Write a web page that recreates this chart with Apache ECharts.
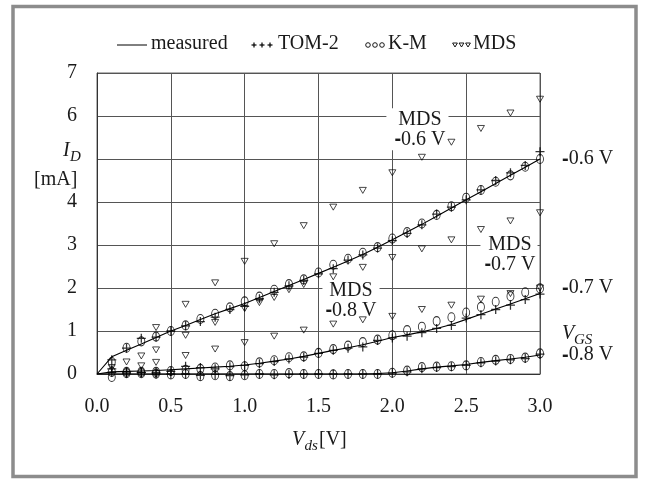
<!DOCTYPE html>
<html><head><meta charset="utf-8">
<script src="https://cdn.jsdelivr.net/npm/echarts@6/dist/echarts.min.js"></script>
<style>html,body{margin:0;padding:0;background:#fff}#c{width:645px;height:479px}</style>
</head><body><div id="c"></div>
<script>
// ---------- data ----------
const xTickLabels = ['0.0','0.5','1.0','1.5','2.0','2.5','3.0'];
const yTickLabels = ['0','1','2','3','4','','6','7'];

const vdsMeasured = [0.0,0.1,0.2,0.3,0.4,0.5,0.6,0.7,0.8,0.9,1.0,1.1,1.2,1.3,1.4,1.5,1.6,1.7,1.8,1.9,2.0,2.1,2.2,2.3,2.4,2.5,2.6,2.7,2.8,2.9,3.0];
const measured06 = [0,0.40,0.55,0.70,0.85,1.00,1.13,1.27,1.40,1.52,1.64,1.78,1.92,2.06,2.20,2.34,2.48,2.63,2.78,2.95,3.12,3.30,3.48,3.67,3.86,4.05,4.24,4.43,4.62,4.81,5.00];
const measured07 = [0,0.05,0.06,0.07,0.08,0.10,0.12,0.14,0.16,0.18,0.21,0.25,0.30,0.35,0.41,0.48,0.55,0.61,0.68,0.76,0.85,0.91,0.98,1.06,1.15,1.27,1.39,1.51,1.63,1.75,1.87];
const measured08 = [0,0,0,0,0,0,0,0,0,0,0,0,0,0,0,0,0,0,0,0.01,0.03,0.07,0.12,0.16,0.19,0.22,0.27,0.31,0.35,0.39,0.44];

const vdsModel = [0.1,0.2,0.3,0.4,0.5,0.6,0.7,0.8,0.9,1.0,1.1,1.2,1.3,1.4,1.5,1.6,1.7,1.8,1.9,2.0,2.1,2.2,2.3,2.4,2.5,2.6,2.7,2.8,2.9,3.0];
const km06  = [0.28,0.61,0.76,0.87,1.00,1.13,1.28,1.40,1.55,1.69,1.80,1.96,2.09,2.20,2.36,2.54,2.68,2.82,2.95,3.15,3.30,3.50,3.70,3.90,4.10,4.28,4.47,4.62,4.82,5.00];
const tom06 = [0.33,0.60,0.83,0.86,1.00,1.12,1.22,1.32,1.50,1.57,1.75,1.90,2.05,2.18,2.33,2.45,2.65,2.77,2.93,3.10,3.27,3.47,3.72,3.88,4.05,4.28,4.50,4.68,4.85,5.17];
const km07  = [0.05,0.05,0.05,0.05,0.07,0.10,0.12,0.15,0.20,0.18,0.27,0.32,0.39,0.41,0.49,0.58,0.66,0.74,0.80,0.90,1.02,1.10,1.23,1.32,1.43,1.56,1.68,1.81,1.90,1.99];
const tom07 = [0.12,0.05,0.04,0.04,0.06,0.18,0.15,0.12,0.17,0.20,0.24,0.29,0.35,0.39,0.48,0.55,0.60,0.63,0.78,0.84,0.88,0.96,1.06,1.13,1.30,1.38,1.50,1.60,1.73,1.86];
const km08  = [-0.07,0.02,0.02,0.01,-0.01,0.00,-0.05,-0.03,-0.05,-0.03,0.00,0.00,0.02,0.00,0.00,-0.01,0.00,0.00,0.00,0.03,0.08,0.16,0.17,0.18,0.20,0.28,0.33,0.35,0.38,0.48];
const tom08 = [0.04,0.02,0.03,0.00,0.00,0.00,-0.03,-0.01,-0.04,-0.02,0.00,-0.02,-0.01,0.00,0.00,0.00,0.00,0.00,0.00,0.02,0.05,0.12,0.15,0.17,0.20,0.26,0.30,0.33,0.36,0.46];

const mdsVds06 = [0.4,0.6,0.8,1.0,1.2,1.4,1.6,1.8,2.0,2.2,2.4,2.6,2.8,3.0];
const mds06    = [1.08,1.62,2.12,2.62,3.03,3.45,3.88,4.27,4.68,5.04,5.39,5.71,6.07,6.39];
const mdsVds07 = [0.1,0.2,0.3,0.4,0.6,0.8,1.0,1.1,1.2,1.3,1.4,1.6,1.8,2.0,2.2,2.4,2.6,2.8,3.0];
const mds07    = [0.15,0.28,0.42,0.56,0.90,1.20,1.52,1.66,1.78,1.96,2.08,2.26,2.48,2.71,2.91,3.12,3.36,3.56,3.75];
const mdsVds08 = [0.3,0.4,0.6,0.8,1.0,1.2,1.4,1.6,1.8,2.0,2.2,2.4,2.6,2.8,3.0];
const mds08    = [0.19,0.27,0.43,0.58,0.73,0.88,1.02,1.16,1.26,1.34,1.50,1.60,1.74,1.87,2.00];

// ---------- chart ----------
const FONT = '"Liberation Serif","Times New Roman",serif';
const TXT = '#1a1a1a';
const chart = echarts.init(document.getElementById('c'), null, {renderer:'canvas'});
const pair = (xs, ys) => xs.map((x, i) => [x, ys[i]]);
const plusPath = 'path://M4.3,0H5.7V4.3H10V5.7H5.7V10H4.3V5.7H0V4.3H4.3Z';

function lineS(d){ return {type:'line', name:'measured', data:d, symbol:'none', lineStyle:{color:'#000', width:1.1}, z:3, animation:false, silent:true}; }
function tomS(d){ return {type:'scatter', name:'TOM-2', data:d, symbol:plusPath, symbolSize:9, itemStyle:{color:'#000'}, clip:false, z:4, animation:false}; }
function kmS(d){ return {type:'scatter', name:'K-M', data:d, symbol:'circle', symbolSize:[7,9], itemStyle:{color:'rgba(0,0,0,0)', borderColor:'#000', borderWidth:1}, clip:false, z:5, animation:false}; }
function mdsS(d){ return {type:'scatter', name:'MDS', data:d, symbol:'triangle', symbolRotate:180, symbolSize:[7,6], itemStyle:{color:'rgba(0,0,0,0)', borderColor:'#000', borderWidth:0.9}, clip:false, z:4, animation:false}; }

chart.setOption({
  animation:false,
  backgroundColor:'#fff',
  grid:{left:97, right:105, top:73, bottom:105, show:true, borderColor:'#666', borderWidth:1},
  xAxis:{type:'value', min:0, max:3, interval:0.5,
    axisLine:{show:true, lineStyle:{color:'#333', width:1}}, axisTick:{show:false},
    splitLine:{show:true, lineStyle:{color:'#555', width:1}},
    axisLabel:{margin:23, fontSize:20, fontFamily:FONT, color:TXT, formatter:(v, i) => xTickLabels[i]}},
  yAxis:{type:'value', min:0, max:7, interval:1,
    axisLine:{show:true, lineStyle:{color:'#333', width:1}}, axisTick:{show:false},
    splitLine:{show:true, lineStyle:{color:'#555', width:1}},
    axisLabel:{margin:20, fontSize:20, fontFamily:FONT, color:TXT, formatter:(v, i) => yTickLabels[i]}},
  series:[
    lineS(pair(vdsMeasured, measured06)), lineS(pair(vdsMeasured, measured07)), lineS(pair(vdsMeasured, measured08)),
    mdsS(pair(mdsVds06, mds06)), mdsS(pair(mdsVds07, mds07)), mdsS(pair(mdsVds08, mds08)),
    tomS(pair(vdsModel, tom06)), tomS(pair(vdsModel, tom07)), tomS(pair(vdsModel, tom08)),
    kmS(pair(vdsModel, km06)), kmS(pair(vdsModel, km07)), kmS(pair(vdsModel, km08))
  ]
});

// ---------- annotations ----------
const P = (x, y) => chart.convertToPixel({gridIndex:0}, [x, y]);
const f20 = '20px ' + FONT, fi20 = 'italic 20px ' + FONT, fi15 = 'italic 15px ' + FONT;
const dashRich = {b:{fontFamily:'"Liberation Sans",Arial,sans-serif', fontWeight:'bold', fontSize:20, fill:TXT}};
function txt(x, y, text, font, opts){
  return Object.assign({type:'text', x:x, y:y, z:20, silent:true,
    style:Object.assign({text:text, font:font, fill:TXT, align:'left', verticalAlign:'middle', textAlign:'left', textVerticalAlign:'middle'}, opts || {})});
}
const g = [];
// outer frame
g.push({type:'rect', z:1, silent:true, shape:{x:13, y:6.5, width:623, height:470}, style:{fill:'none', stroke:'#8c8c8c', lineWidth:3.5}});
// legend
const ly = 45;
g.push({type:'line', z:20, silent:true, shape:{x1:117, y1:ly, x2:147, y2:ly}, style:{stroke:'#000', lineWidth:1}});
g.push(txt(151, ly - 1, 'measured', f20));
[254, 262, 270].forEach(x => {
  g.push({type:'rect', z:20, silent:true, shape:{x:x-2.5, y:ly-0.6, width:5, height:1.2}, style:{fill:'#000'}});
  g.push({type:'rect', z:20, silent:true, shape:{x:x-0.6, y:ly-2.5, width:1.2, height:5}, style:{fill:'#000'}});
});
g.push(txt(278, ly - 1, 'TOM-2', f20));
[368, 375, 382].forEach(x => g.push({type:'circle', z:20, silent:true, shape:{cx:x, cy:ly, r:2.3}, style:{fill:'none', stroke:'#000', lineWidth:0.9}}));
g.push(txt(388, ly - 1, 'K-M', f20));
[455, 461.5, 468].forEach(x => g.push({type:'polygon', z:20, silent:true, shape:{points:[[x-2.4, ly-2],[x+2.4, ly-2],[x, ly+2]]}, style:{fill:'none', stroke:'#000', lineWidth:0.9}}));
g.push(txt(473, ly - 1, 'MDS', f20));

// y axis title
g.push(txt(63, 151, 'I', fi20));
g.push(txt(70, 157, 'D', fi15));
g.push(txt(34, 180, '[mA]', f20));
// x axis title
g.push(txt(292, 440, 'V', fi20));
g.push(txt(304.5, 446, 'ds', fi15));
g.push(txt(319, 440, '[V]', f20));

// MDS labels inside plot (below the marks, above the grid)
function mdsLabel(x, y, v, pad){
  const p = P(x, y);
  return {type:'text', x:p[0], y:p[1], z:1, silent:true,
    style:{text:'MDS\n{b|-}' + v + ' V', font:f20, fill:TXT, lineHeight:20, rich:dashRich,
      align:'center', verticalAlign:'middle', textAlign:'center', textVerticalAlign:'middle',
      backgroundColor:'#fff', padding:pad}};
}
g.push(mdsLabel(2.17, 5.69, '0.6', [1, 3, 1, 8]));
g.push(mdsLabel(2.79, 2.78, '0.7', [1, 2, 1, 4]));
g.push(mdsLabel(1.72, 1.70, '0.8', [1, 3, 1, 3]));

// right-side V_GS labels
const rx = P(3, 0)[0] + 22;
g.push(txt(rx, P(3, 5.0)[1], '{b|-}0.6 V', f20, {rich:dashRich}));
g.push(txt(rx, P(3, 2.0)[1], '{b|-}0.7 V', f20, {rich:dashRich}));
g.push(txt(rx, P(3, 0.93)[1], 'V', fi20));
g.push(txt(rx + 12, P(3, 0.93)[1] + 6, 'GS', fi15));
g.push(txt(rx, P(3, 0.44)[1], '{b|-}0.8 V', f20, {rich:dashRich}));

chart.setOption({graphic:{elements:g}});
</script>
</body></html>
